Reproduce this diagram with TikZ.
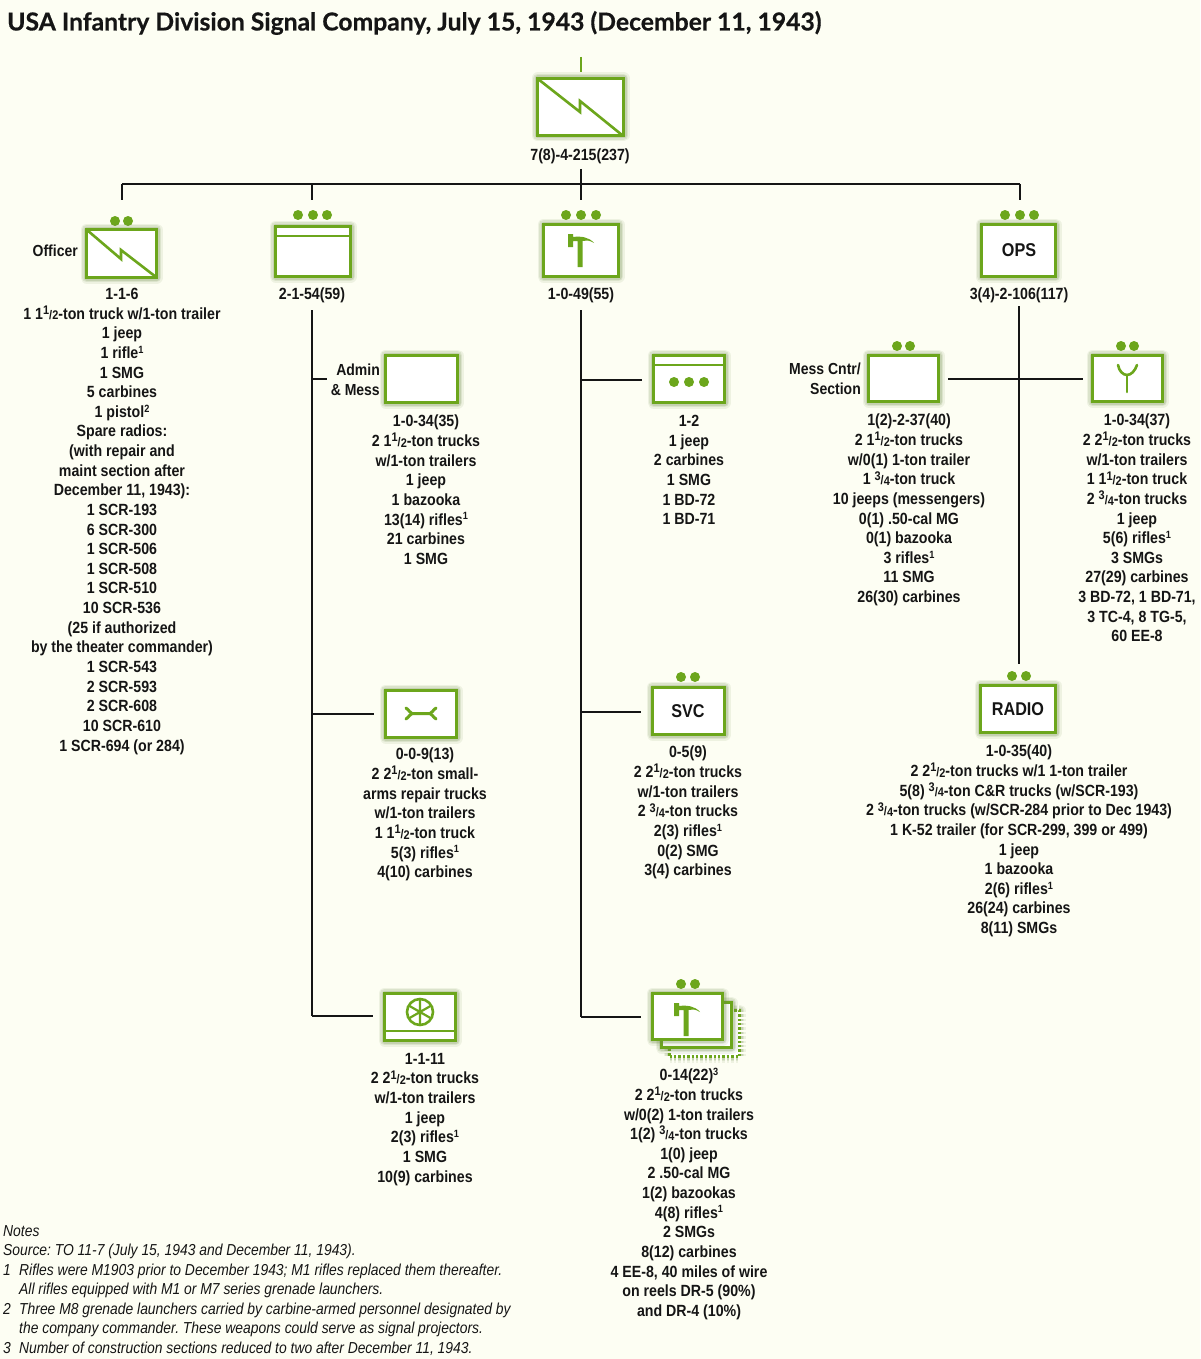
\documentclass[tikz,border=0pt]{standalone}
\usepackage{fontspec}
\setmainfont{Liberation Sans}[FakeStretch=0.875]
\newfontfamily\titlefont{Lato}[BoldFeatures={FakeBold=0.5}]
\usetikzlibrary{calc}
\definecolor{paper}{HTML}{FDFEF3}
\definecolor{armg}{HTML}{6CA61C}
\definecolor{shadeg}{HTML}{6E8A4A}
\definecolor{inkc}{HTML}{151515}
\newcommand{\frc}[2]{{\fontsize{12.5}{12.5}\selectfont\raisebox{.38em}{#1}/\raisebox{-.05em}{#2}}}
\newcommand{\supn}[1]{{\fontsize{10.5}{10.5}\selectfont\raisebox{.5em}{#1}}}
\tikzset{
  x=1pt,y=-1pt,
  unitbox/.style={draw=armg,line width=3pt,fill=white,inner sep=0pt,text=inkc,line join=miter,
    preaction={draw=shadeg,line width=12pt,opacity=.10,line join=round},
    preaction={draw=shadeg,line width=9pt,opacity=.14,line join=round},
    preaction={draw=shadeg,line width=6pt,opacity=.2,line join=round}},
  dottedbox/.style={unitbox,dash pattern=on 2.4pt off 2pt},
  conn/.style={draw=inkc,line width=2.6pt},
  gap/.style={conn,shorten >=10pt},
  sym/.style={draw=armg,line width=2.6pt,line cap=round,line join=round},
  sepline/.style={draw=armg,line width=2.4pt},
  txt/.style={font=\bfseries\fontsize{16.2}{19.63}\selectfont,align=center,anchor=north,inner sep=0pt,text=inkc,execute at begin node=\strut},
  sidelabel/.style={font=\bfseries\fontsize{16}{19.63}\selectfont,align=right,anchor=east,inner sep=0pt,text=inkc},
  boxlabel/.style={font=\bfseries\fontsize{18.5}{22}\selectfont}
}
% \unit{name}{x0}{y0}{x1}{y1}{style}: x/y are outer edges of the stroke
\newcommand{\unit}[6]{%
  \pgfmathsetmacro{\ucx}{(#2+#4)/2}\pgfmathsetmacro{\ucy}{(#3+#5)/2}%
  \pgfmathsetmacro{\uw}{#4-#2-3}\pgfmathsetmacro{\uh}{#5-#3-3}%
  \node[#6,minimum width=\uw pt,minimum height=\uh pt] (#1) at (\ucx,\ucy) {};}
\newcommand{\ptwo}[3]{\fill[armg] (#1,#3) circle (5) (#2,#3) circle (5);}
\newcommand{\pthree}[4]{\fill[armg] (#1,#4) circle (5) (#2,#4) circle (5) (#3,#4) circle (5);}
\newcommand{\hammer}[2]{\begin{scope}[shift={(#1,#2)}]
  \fill[armg] (-12,-10) -- (-7,-10) -- (-7,-7) .. controls (1,-8) and (9,-7) .. (14,-1) .. controls (9,-4) and (6,-4) .. (2.5,-3) -- (2.5,23) -- (-2.5,23) -- (-2.5,-3) -- (-7,-3) -- (-7,3) -- (-12,3) -- cycle;
  \end{scope}}
\begin{document}
\begin{tikzpicture}
\useasboundingbox (0,0) rectangle (1200,1359);
\fill[paper] (0,0) rectangle (1200,1359);

\node[anchor=west,inner sep=0pt,text=inkc,font=\titlefont\bfseries\fontsize{24.7}{27}\selectfont] (title) at (7,23) {USA Infantry Division Signal Company, July 15, 1943 (December 11, 1943)};

% bus and trunks
\coordinate (busL) at (122,184);
\coordinate (busA) at (312,184);
\coordinate (busC) at (581,184);
\coordinate (busR) at (1020,184);
\coordinate (hqstem) at (581,169);
\coordinate (bL) at (122,200);
\coordinate (bA) at (312,200);
\coordinate (bC) at (581,200);
\coordinate (bR) at (1020,200);
\draw[conn] (busL) -- (busR);
\draw[conn] (hqstem) -- (bC);
\draw[conn] (busL) -- (bL);
\draw[conn] (busA) -- (bA);
\draw[conn] (busR) -- (bR);

% HQ
\draw[draw=armg,line width=2pt] (580.5,57) -- (580.5,72);
\unit{hq}{536}{77}{625}{137}{unitbox}
\draw[sym,line cap=butt,line join=miter] (538,79) -- (580,112) -- (580,101) -- (622,135);
\node[txt] (hqt) at (580,147) {7(8)-4-215(237)};

% Officer
\ptwo{115}{128}{221}
\unit{off}{85}{228}{158}{279}{unitbox}
\draw[sym,line cap=butt,line join=miter] (87,230) -- (121,259) -- (121,250) -- (156,277);
\node[sidelabel] (offl) at (78,251) {Officer};
\node[txt] (offt) at (122,288) {1-1-6\\
1 1\frc{1}{2}-ton truck w/1-ton trailer\\
1 jeep\\
1 rifle\supn{1}\\
1 SMG\\
5 carbines\\
1 pistol\supn{2}\\
Spare radios:\\
(with repair and\\
maint section after\\
December 11, 1943):\\
1 SCR-193\\
6 SCR-300\\
1 SCR-506\\
1 SCR-508\\
1 SCR-510\\
10 SCR-536\\
(25 if authorized\\
by the theater commander)\\
1 SCR-543\\
2 SCR-593\\
2 SCR-608\\
10 SCR-610\\
1 SCR-694 (or 284)};

% Admin column
\pthree{298}{313}{327}{215}
\unit{adm}{274}{225}{352}{278}{unitbox}
\draw[sepline] (adm.west |- 0,236) -- (adm.east |- 0,236);
\node[txt] (admt) at (312,286) {2-1-54(59)};
\coordinate (tAtop) at (312,310);
\coordinate (tAbot) at (312,1016);
\coordinate (tA1) at (312,379);
\coordinate (tA2) at (312,714);
\coordinate (tA3) at (312,1016);
\coordinate (tA1e) at (327,379);
\draw[conn] (tAtop) -- (tAbot);
\draw[conn] (tA1) -- (tA1e);
\unit{mess}{384}{354}{459}{404}{unitbox}
\node[sidelabel] (messl) at (380,380) {Admin\\\& Mess};
\node[txt] (messt) at (426,415) {1-0-34(35)\\
2 1\frc{1}{2}-ton trucks\\
w/1-ton trailers\\
1 jeep\\
1 bazooka\\
13(14) rifles\supn{1}\\
21 carbines\\
1 SMG};
\unit{rep}{384}{689}{458}{739}{unitbox}
\draw[gap] (tA2) -- (tA2 -| rep.west);
\draw[sym,line width=3pt] (406,708) .. controls (409,710) and (410,713) .. (412,713.5) -- (430,713.5) .. controls (432,713) and (433,710) .. (436,708);
\draw[sym,line width=3pt] (406,719) .. controls (409,717) and (410,714) .. (412,713.5);
\draw[sym,line width=3pt] (436,719) .. controls (433,717) and (432,714) .. (430,713.5);
\node[txt] (rept) at (425,748) {0-0-9(13)\\
2 2\frc{1}{2}-ton small-\\
arms repair trucks\\
w/1-ton trailers\\
1 1\frc{1}{2}-ton truck\\
5(3) rifles\supn{1}\\
4(10) carbines};
\unit{whl}{383}{992}{457}{1042}{unitbox}
\draw[gap] (tA3) -- (tA3 -| whl.west);
\draw[sepline] (whl.west |- 0,1031) -- (whl.east |- 0,1031);
\draw[sym,line width=2.6pt] (420,1012) circle (13);
\draw[sym,line width=2.2pt,line cap=butt] (420,999) -- (420,1025) (408.7,1005.5) -- (431.3,1018.5) (408.7,1018.5) -- (431.3,1005.5);
\node[txt] (whlt) at (425,1053) {1-1-11\\
2 2\frc{1}{2}-ton trucks\\
w/1-ton trailers\\
1 jeep\\
2(3) rifles\supn{1}\\
1 SMG\\
10(9) carbines};

% Centre column
\pthree{566}{581}{596}{215}
\unit{ham}{542}{223}{620}{278}{unitbox}
\hammer{580}{244}
\node[txt] (hamt) at (581,286) {1-0-49(55)};
\coordinate (tCtop) at (581,310);
\coordinate (tCbot) at (581,1017);
\coordinate (tC1) at (581,380);
\coordinate (tC2) at (581,712);
\coordinate (tC3) at (581,1017);
\draw[conn] (tCtop) -- (tCbot);
\unit{bld}{652}{354}{726}{404}{unitbox}
\draw[gap] (tC1) -- (tC1 -| bld.west);
\draw[sepline] (bld.west |- 0,365) -- (bld.east |- 0,365);
\fill[armg] (674,382) circle (5) (689,382) circle (5) (704,382) circle (5);
\node[txt] (bldt) at (689,415) {1-2\\
1 jeep\\
2 carbines\\
1 SMG\\
1 BD-72\\
1 BD-71};
\ptwo{681}{695}{677}
\unit{svc}{651}{686}{726}{736}{unitbox}
\draw[gap] (tC2) -- (tC2 -| svc.west);
\node[boxlabel,inner sep=0pt,text=inkc] (svcl) at (688,711) {SVC};
\node[txt] (svct) at (688,746) {0-5(9)\\
2 2\frc{1}{2}-ton trucks\\
w/1-ton trailers\\
2 \frc{3}{4}-ton trucks\\
2(3) rifles\supn{1}\\
0(2) SMG\\
3(4) carbines};
\ptwo{681}{695}{984}
\unit{cons3}{668}{1009}{741}{1058}{dottedbox}
\unit{cons2}{660}{1001}{733}{1049}{unitbox}
\unit{cons}{651}{992}{724}{1041}{unitbox}
\draw[gap] (tC3) -- (tC3 -| cons.west);
\hammer{686}{1013}
\node[txt] (const) at (689,1068) {0-14(22)\supn{3}\\
2 2\frc{1}{2}-ton trucks\\
w/0(2) 1-ton trailers\\
1(2) \frc{3}{4}-ton trucks\\
1(0) jeep\\
2 .50-cal MG\\
1(2) bazookas\\
4(8) rifles\supn{1}\\
2 SMGs\\
8(12) carbines\\
4 EE-8, 40 miles of wire\\
on reels DR-5 (90\%)\\
and DR-4 (10\%)};

% Right column
\pthree{1005}{1020}{1034}{215}
\unit{ops}{980}{223}{1057}{278}{unitbox}
\node[boxlabel,inner sep=0pt,text=inkc] (opsl) at (1019,250) {OPS};
\node[txt] (opst) at (1019,286) {3(4)-2-106(117)};
\coordinate (tRtop) at (1019,306);
\coordinate (tRbot) at (1019,664);
\draw[conn] (tRtop) -- (tRbot);
\ptwo{897}{910}{346}
\unit{cntr}{867}{354}{940}{403}{unitbox}
\node[sidelabel] (cntrl) at (861,379) {Mess Cntr/\\Section};
\node[txt] (cntrt) at (909,414) {1(2)-2-37(40)\\
2 1\frc{1}{2}-ton trucks\\
w/0(1) 1-ton trailer\\
1 \frc{3}{4}-ton truck\\
10 jeeps (messengers)\\
0(1) .50-cal MG\\
0(1) bazooka\\
3 rifles\supn{1}\\
11 SMG\\
26(30) carbines};
\ptwo{1121}{1134}{346}
\unit{sig}{1091}{354}{1164}{403}{unitbox}
\coordinate (lnL) at (948,379);
\coordinate (lnR) at (1083,379);
\draw[conn] (lnL) -- (lnR);
\draw[sym] (1118,365) .. controls (1119,371) and (1123,375) .. (1127,375) .. controls (1131,375) and (1135,371) .. (1137,365);
\draw[sym] (1127,375) -- (1127,392);
\node[txt] (sigt) at (1137,414) {1-0-34(37)\\
2 2\frc{1}{2}-ton trucks\\
w/1-ton trailers\\
1 1\frc{1}{2}-ton truck\\
2 \frc{3}{4}-ton trucks\\
1 jeep\\
5(6) rifles\supn{1}\\
3 SMGs\\
27(29) carbines\\
3 BD-72, 1 BD-71,\\
3 TC-4, 8 TG-5,\\
60 EE-8};
\ptwo{1012}{1026}{676}
\unit{rad}{979}{684}{1057}{734}{unitbox}
\node[boxlabel,inner sep=0pt,text=inkc] (radl) at (1018,709) {RADIO};
\node[txt] (radt) at (1019,745) {1-0-35(40)\\
2 2\frc{1}{2}-ton trucks w/1 1-ton trailer\\
5(8) \frc{3}{4}-ton C\&R trucks (w/SCR-193)\\
2 \frc{3}{4}-ton trucks (w/SCR-284 prior to Dec 1943)\\
1 K-52 trailer (for SCR-299, 399 or 499)\\
1 jeep\\
1 bazooka\\
2(6) rifles\supn{1}\\
26(24) carbines\\
8(11) SMGs};

% Notes
\node[anchor=north west,inner sep=0pt,align=left,text=inkc,font=\itshape\fontsize{15.86}{19.5}\selectfont\frenchspacing,execute at begin node=\strut] (notes) at (3,1225) {Notes\\
Source: TO 11-7 (July 15, 1943 and December 11, 1943).\\
\makebox[16pt][l]{1}Rifles were M1903 prior to December 1943; M1 rifles replaced them thereafter.\\
\makebox[16pt][l]{}All rifles equipped with M1 or M7 series grenade launchers.\\
\makebox[16pt][l]{2}Three M8 grenade launchers carried by carbine-armed personnel designated by\\
\makebox[16pt][l]{}the company commander. These weapons could serve as signal projectors.\\
\makebox[16pt][l]{3}Number of construction sections reduced to two after December 11, 1943.};
\end{tikzpicture}
\end{document}
